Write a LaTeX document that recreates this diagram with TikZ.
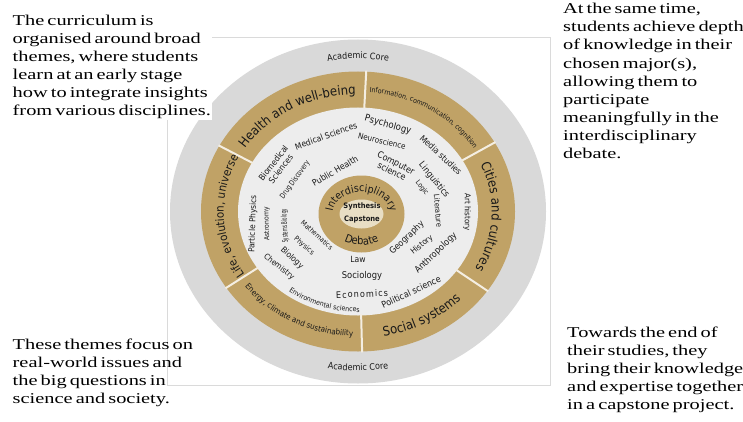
\documentclass[tikz,border=0pt]{standalone}
\usepackage{fontspec}
\usepackage{graphicx}
\setmainfont{Liberation Serif}
\newfontfamily\sidefont[FakeStretch=1.36,WordSpace=0.6]{Liberation Serif}
\newfontfamily\dfont[FakeStretch=0.9]{DejaVu Sans}
\usetikzlibrary{decorations.text}
\definecolor{gold}{RGB}{192,162,102}
\definecolor{outerg}{RGB}{217,217,217}
\definecolor{innerg}{RGB}{237,237,237}
\definecolor{pale}{RGB}{232,222,196}
\definecolor{divc}{RGB}{244,238,226}
\definecolor{framec}{RGB}{218,218,218}
\definecolor{ink}{RGB}{25,25,25}
\newcommand\dsz[1]{\fontsize{#1}{#1}\selectfont}
\tikzset{
  side/.style={anchor=north west, inner sep=0pt, align=left, text=black,
    font=\sidefont\fontsize{15}{18.1}\selectfont},
  word/.style={inner sep=0pt, text=ink},
  divider/.style={draw=divc, line width=2pt},
  arctext/.style={decorate, decoration={text along path, text align=center,
    text color=ink, text={#1}}},
}
\begin{document}
\begin{tikzpicture}[x=1pt,y=1pt]
\useasboundingbox (0,0) rectangle (743,421);
\fill[white] (0,0) rectangle (743,421);
\draw[framec, line width=0.8pt] (167,36) rectangle (550,384);

\begin{scope}[shift={(358,209.5)}]
  \fill[outerg] (0,0) ellipse [x radius=188, y radius=172];
  \fill[gold] (0,0) ellipse [x radius=157, y radius=140];
  \fill[innerg] (0,0) ellipse [x radius=120, y radius=104];
  \foreach \a in {152,87,29.5,-34.5,-88.5,213}
    \draw[divider] (\a:119 and 103) -- (\a:158 and 141);
  % theme labels
  \path[arctext={|\dfont\dsz{13}|Health and well-being}]
    (152:133.8 and 117.3) arc[start angle=152, end angle=87, x radius=133.8, y radius=117.3];
  \path[arctext={|\dfont\dsz{7}|Information, communication, cognition}]
    (87:136 and 119.5) arc[start angle=87, end angle=29.5, x radius=136, y radius=119.5];
  \path[arctext={|\dfont\dsz{13}|Cities and cultures}]
    (29.5:133.8 and 117.3) arc[start angle=29.5, end angle=-34.5, x radius=133.8, y radius=117.3];
  \path[arctext={|\dfont\dsz{13}|Social systems}]
    (-88.5:143.2 and 126.7) arc[start angle=-88.5, end angle=-34.5, x radius=143.2, y radius=126.7];
  \path[arctext={|\dfont\dsz{8}|Energy, climate and sustainability}]
    (213:141.4 and 124.9) arc[start angle=213, end angle=271.5, x radius=141.4, y radius=124.9];
  \path[arctext={|\dfont\dsz{11.5}|Life, evolution, universe}]
    (213:134.3 and 117.8) arc[start angle=213, end angle=152, x radius=134.3, y radius=117.8];
  % academic core
  \path[arctext={|\dfont\dsz{9}|Academic Core}]
    (125:169.3 and 152.8) arc[start angle=125, end angle=55, x radius=169.3, y radius=152.8];
  \path[arctext={|\dfont\dsz{9}|Academic Core}]
    (235:175.7 and 159.2) arc[start angle=235, end angle=305, x radius=175.7, y radius=159.2];
  % environmental sciences
  \path[arctext={|\dfont\dsz{7}|Environmental sciences}]
    (211:113 and 100.5) arc[start angle=211, end angle=291, x radius=113, y radius=100.5];
  % centre
  \begin{scope}[shift={(3.5,-2.5)}]
    \fill[gold] (0,0) ellipse [x radius=43, y radius=38.5];
    \fill[pale] (0,0) ellipse [x radius=22, y radius=14.5];
    \path[arctext={|\dfont\dsz{10.5}|Interdisciplinary}]
      (190:29 and 22) arc[start angle=190, end angle=-10, x radius=29, y radius=22];
    \path[arctext={|\dfont\dsz{11}|Debate}]
      (225:35 and 31) arc[start angle=225, end angle=315, x radius=35, y radius=31];
  \end{scope}
\end{scope}

\node[word, font=\dfont\bfseries\dsz{7.5}] (syn) at (362,215) {Synthesis};
\node[word, font=\dfont\bfseries\dsz{7.5}] (cap) at (362,202) {Capstone};

% inner discipline words
\node[word, font=\dfont\dsz{8.5}, rotate=20] (w1) at (326,285) {Medical Sciences};
\node[word, font=\dfont\fontsize{8.5}{9.5}\selectfont, rotate=52, align=center] (w2) at (277,255) {Biomedical\\Sciences};
\node[word, font=\dfont\dsz{7.6}, rotate=54] (w3) at (295,241) {\scalebox{0.85}[1]{Drug Discovery}};
\node[word, font=\dfont\dsz{8.7}, rotate=30] (w4) at (335,250) {Public Health};
\node[word, font=\dfont\dsz{8.3}, rotate=88] (w5) at (253,197) {Particle Physics};
\node[word, font=\dfont\dsz{6.9}, rotate=92] (w6) at (267,197) {Astronomy};
\node[word, font=\dfont\dsz{7.6}, rotate=93] (w7) at (285,195) {\scalebox{0.6}[1]{Systems Biology}};
\node[word, font=\dfont\dsz{6.9}, rotate=-42] (w8) at (317,186) {Mathematics};
\node[word, font=\dfont\dsz{7.2}, rotate=-40] (w9) at (304,175) {Physics};
\node[word, font=\dfont\dsz{8.3}, rotate=-43] (w10) at (292,163) {Biology};
\node[word, font=\dfont\dsz{8}, rotate=-39] (w11) at (279,154) {Chemistry};
\node[word, font=\dfont\addfontfeature{LetterSpace=12}\dsz{9}, rotate=2] (w12) at (362,127) {Economics};
\node[word, font=\dfont\dsz{9.3}] (w13) at (362,145) {Sociology};
\node[word, font=\dfont\dsz{8.5}] (w14) at (358,162) {Law};
\node[word, font=\dfont\dsz{9}, rotate=25] (w15) at (411,129) {Political science};
\node[word, font=\dfont\dsz{9}, rotate=44] (w16) at (436,168) {Anthropology};
\node[word, font=\dfont\dsz{8}, rotate=39] (w17) at (422,176) {History};
\node[word, font=\dfont\dsz{8.8}, rotate=44] (w18) at (407,183) {Geography};
\node[word, font=\dfont\dsz{7.5}, rotate=-85] (w19) at (438,210) {Literature};
\node[word, font=\dfont\dsz{8}, rotate=-90] (w20) at (467,209) {Art history};
\node[word, font=\dfont\dsz{7}, rotate=-52] (w21) at (422,233) {Logic};
\node[word, font=\dfont\dsz{9}, rotate=-51] (w22) at (434,241) {Linguistics};
\node[word, font=\dfont\fontsize{9}{9.5}\selectfont, rotate=-27, align=center] (w23) at (394,254) {Computer\\science};
\node[word, font=\dfont\dsz{8.6}, rotate=-43] (w24) at (441,266) {Media studies};
\node[word, font=\dfont\dsz{8}, rotate=-14] (w25) at (382,280) {Neuroscience};
\node[word, font=\dfont\dsz{9.5}, rotate=-16] (w26) at (388,296) {Psychology};

% side texts
\node[side, fill=white, inner sep=1pt] (tl) at (11.5,407.2) {The curriculum is\\organised around broad\\themes, where students\\learn at an early stage\\how to integrate insights\\from various disciplines.};
\node[side] (tr) at (563,417.9) {At the same time,\\students achieve depth\\of knowledge in their\\chosen major(s),\\allowing them to\\participate\\meaningfully in the\\interdisciplinary\\debate.};
\node[side] (bl) at (12.5,82.2) {These themes focus on\\real-world issues and\\the big questions in\\science and society.};
\node[side] (br) at (567,94.2) {Towards the end of\\their studies, they\\bring their knowledge\\and expertise together\\in a capstone project.};
\end{tikzpicture}
\end{document}
